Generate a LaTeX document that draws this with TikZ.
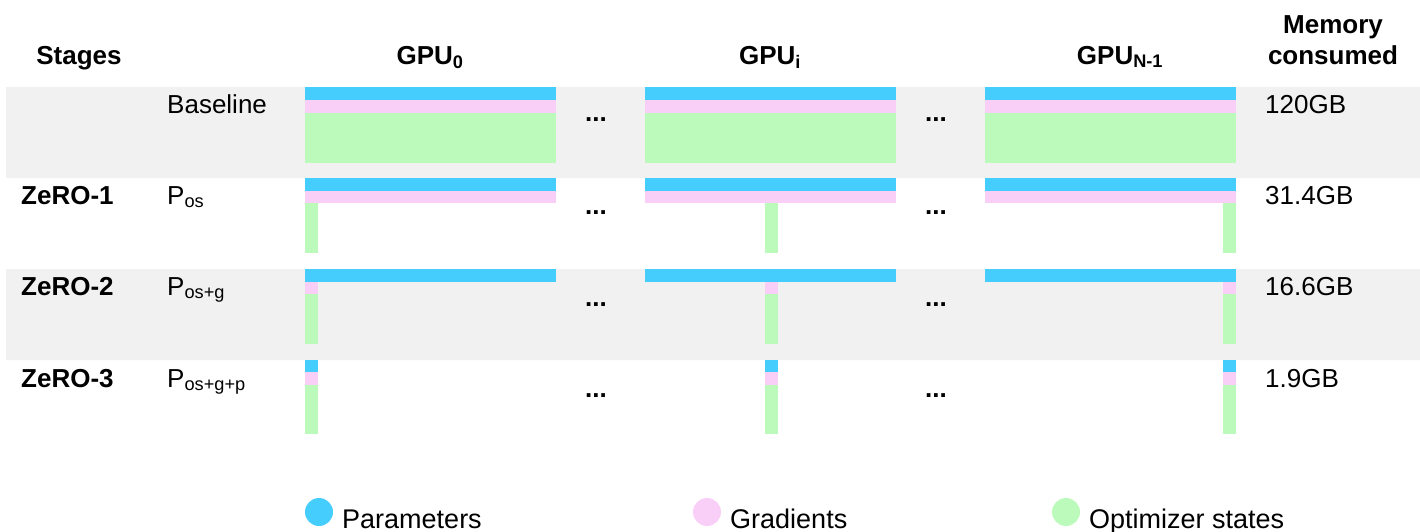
\documentclass[tikz,border=0pt]{standalone}
\usepackage{fontspec}
\setmainfont{Liberation Sans}
\definecolor{parblue}{HTML}{45CDFD}
\definecolor{gradpink}{HTML}{F9CEF7}
\definecolor{optgreen}{HTML}{BCFABC}
\definecolor{bandgray}{HTML}{F1F1F1}
\begin{document}
\begin{tikzpicture}[x=1pt,y=-1pt,every node/.style={inner sep=0pt,font=\fontsize{26}{31}\selectfont},
    head/.style={font=\fontsize{26}{31}\selectfont\bfseries,anchor=base},
    lbl/.style={anchor=base west}]
    \useasboundingbox(0,0)rectangle(1420,531);
    \fill[bandgray](6,87)rectangle(1420,178)(6,269)rectangle(1420,360);
    % column heads
    \node[head](stages)at(79,64){Stages};
    \node[head](gpu0)at(430,64){GPU\textsubscript{0}};
    \node[head](gpui)at(770,64){GPU\textsubscript{i}};
    \node[head](gpun)at(1120,64){GPU\textsubscript{N-1}};
    \node[head,align=center](mem)at(1333,64){Memory\\consumed};
    % memory per GPU
    \foreach \x/\s in{305/0,645/120,985/238}{
      \fill[parblue](\x,87)rectangle+(251,13);
      \fill[gradpink](\x,100)rectangle+(251,13);
      \fill[optgreen](\x,113)rectangle+(251,50);
      \fill[parblue](\x,178)rectangle+(251,13);
      \fill[gradpink](\x,191)rectangle+(251,12);
      \fill[optgreen]({\x+\s},203)rectangle+(13,50);
      \fill[parblue](\x,269)rectangle+(251,13);
      \fill[gradpink]({\x+\s},282)rectangle+(13,12);
      \fill[optgreen]({\x+\s},294)rectangle+(13,50);
      \fill[parblue]({\x+\s},360)rectangle+(13,12);
      \fill[gradpink]({\x+\s},372)rectangle+(13,13);
      \fill[optgreen]({\x+\s},385)rectangle+(13,49);
    }
    \foreach \y[count=\i] in{120,213,305,396}{
      \node[font=\fontsize{26}{31}\selectfont\bfseries](dl\i)at(596,\y){...};
      \node[font=\fontsize{26}{31}\selectfont\bfseries](dr\i)at(936,\y){...};
    }
    % rows
    \foreach \y/\st/\m[count=\i] in{113/Baseline/120GB,204/P\textsubscript{os}/31.4GB,
        295/P\textsubscript{os+g}/16.6GB,387/P\textsubscript{os+g+p}/1.9GB}{
      \node[lbl](st\i)at(167,\y){\st};
      \node[lbl](gb\i)at(1265,\y){\m};
    }
    \foreach \i/\y in{1/204,2/295,3/387}
      \node[head,anchor=base west](z\i)at(21,\y){ZeRO-\i};
    % legend
    \foreach \x/\c/\t[count=\i] in{319/parblue/Parameters,707/gradpink/Gradients,1066/optgreen/Optimizer states}{
      \fill[\c](\x,512)circle[radius=14pt];
      \node[lbl,font=\fontsize{27}{31}\selectfont](leg\i)at({\x+23},528){\t};
    }
  \end{tikzpicture}
\end{document}
